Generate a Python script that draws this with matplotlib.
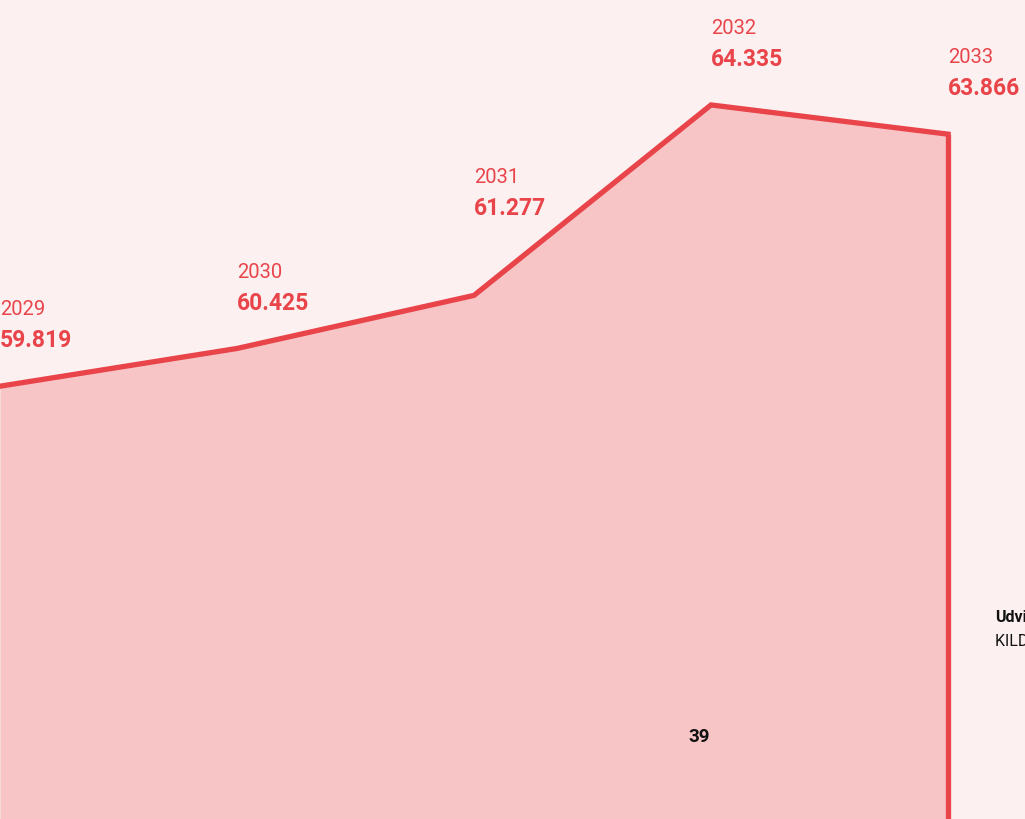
import matplotlib.pyplot as plt
import numpy as np

years = [2029, 2030, 2031, 2032, 2033]
values = [59.819, 60.425, 61.277, 64.335, 63.866]
value_labels = ['59.819', '60.425', '61.277', '64.335', '63.866']
page_number = '39'
side_title = 'Udvikling'
side_source = 'KILDE: Danmarks Statistik'

bg = '#fdf0f0'
red = '#e8444a'
fill = '#f7c5c6'

plt.rcParams['font.family'] = ['Roboto', 'DejaVu Sans']

fig = plt.figure(figsize=(10.25, 8.19), dpi=100, facecolor=bg)
ax = fig.add_axes([0, 0, 1, 1])
ax.set_facecolor(bg)
ax.axis('off')

ymin, ymax = 52.87, 66.02
ax.set_xlim(2029, 2029 + 1025 / 237)
ax.set_ylim(ymin, ymax)

ax.fill_between(years, values, ymin, color=fill, lw=0)
ax.plot(years, values, color=red, lw=3.8, solid_joinstyle='miter', zorder=3)
ax.vlines(years[-1], ymin, values[-1], color=red, lw=3.8, zorder=3)

# the 2031 label sits higher so it clears the steep segment
lift = {2031: 30}
for yr, v, lab in zip(years, values, value_labels):
    dy = lift.get(yr, 0)
    ax.annotate(str(yr), (yr, v), xytext=(0, 51 + dy), textcoords='offset points',
                color=red, fontsize=14.5, ha='left', va='baseline')
    ax.annotate(lab, (yr, v), xytext=(0, 28 + dy), textcoords='offset points',
                color=red, fontsize=16.5, fontweight='bold', ha='left', va='baseline')

fig.text(688 / 1025, 1 - 742 / 819, page_number, fontsize=13.5, fontweight='bold',
         color='#111111', ha='left', va='baseline')
fig.text(995 / 1025, 1 - 622 / 819, side_title, fontsize=11.5, fontweight='bold',
         color='#111111', ha='left', va='baseline')
fig.text(995 / 1025, 1 - 646 / 819, side_source, fontsize=11.5,
         color='#111111', ha='left', va='baseline')

plt.savefig('out.png', dpi=100, facecolor=bg)
